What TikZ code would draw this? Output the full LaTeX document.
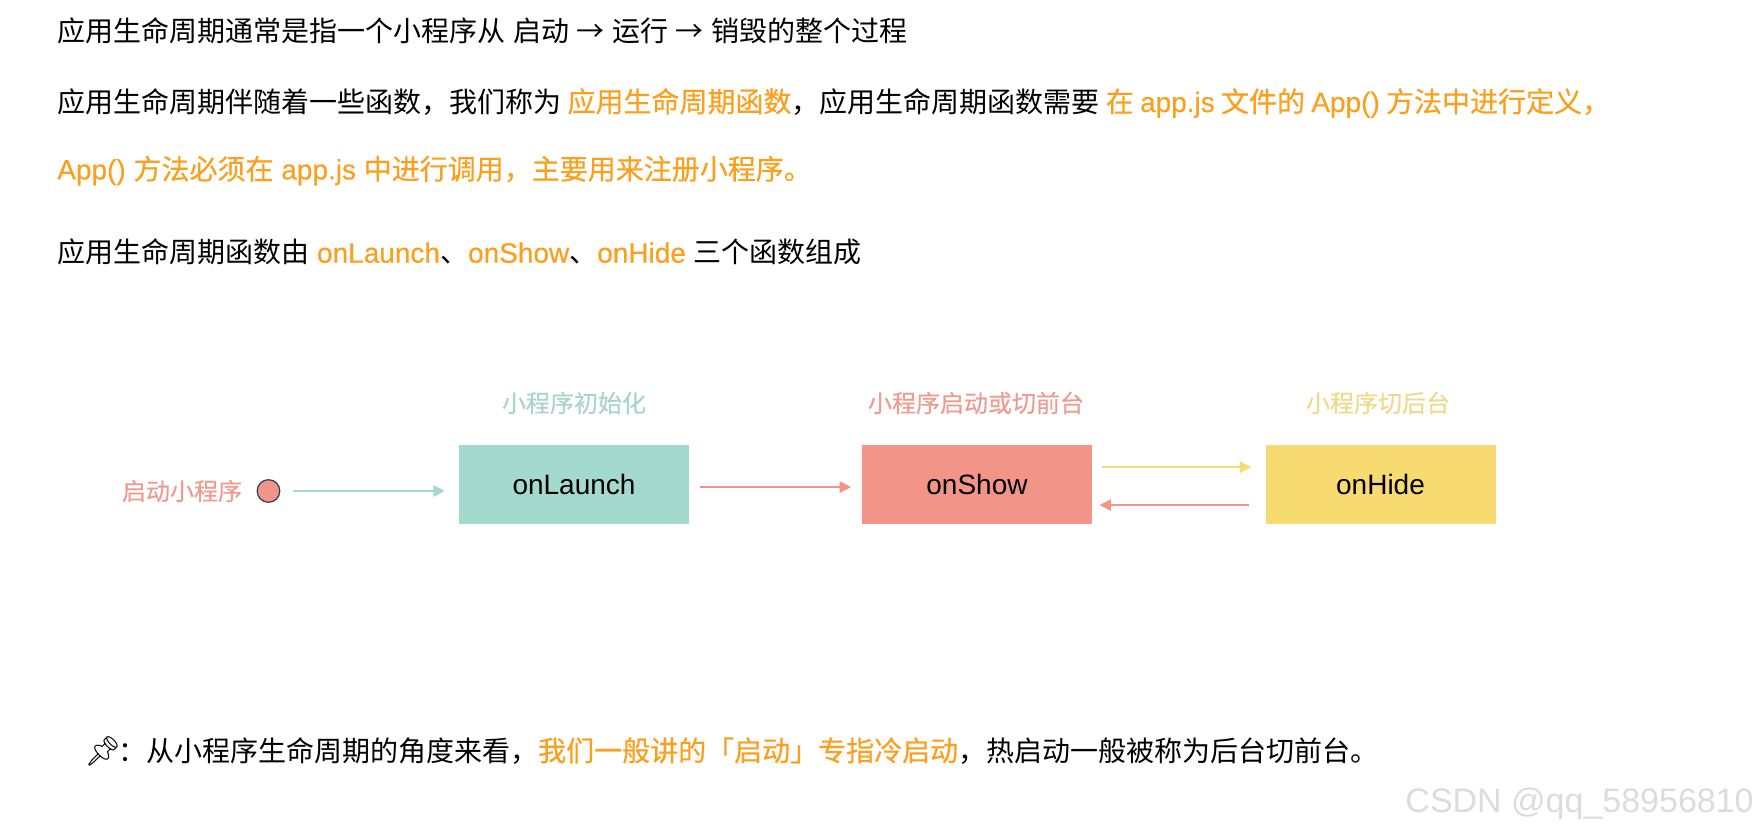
\documentclass[tikz,border=0pt]{standalone}
\usepackage{fontspec}
\setmainfont{Liberation Sans}
\newfontfamily\cjk{Noto Sans CJK SC}
\newfontfamily\emoji{Noto Emoji}
\newfontfamily\cjkheavy[FakeBold=.5]{Noto Sans CJK SC}
\newfontfamily\latinheavy[FakeBold=.4]{Liberation Sans}
\usetikzlibrary{arrows.meta}
\definecolor{hiorange}{HTML}{FA9F1E}
\definecolor{lifeteal}{HTML}{A3D9CE}
\definecolor{lifered}{HTML}{F29488}
\definecolor{lifeyellow}{HTML}{F7DB70}
\definecolor{tagteal}{HTML}{A9D5CA}
\definecolor{tagred}{HTML}{EE9C91}
\definecolor{tagyellow}{HTML}{EFD98A}
\definecolor{dotline}{HTML}{24405F}
\definecolor{markgray}{HTML}{DCDCDC}
\newcommand{\hi}[1]{\textcolor{hiorange}{#1}}
\newcommand{\hc}[1]{{\cjkheavy #1}}
\newcommand{\hl}[1]{{\latinheavy #1}}
\tikzset{
  para/.style={anchor=west,inner sep=0pt,font=\fontsize{21pt}{25pt}\selectfont},
  hook/.style={inner sep=0pt,font=\cjkheavy\fontsize{18pt}{22pt}\selectfont},
  stage/.style={minimum width=172.5pt,minimum height=59pt,inner sep=0pt,font=\fontsize{21pt}{25pt}\selectfont},
  flow/.style={line width=1.3pt,-{Triangle[length=8.5pt,width=8.5pt]}}
}
\begin{document}
\begin{tikzpicture}[x=.75pt,y=-.75pt]
\useasboundingbox (0,0) rectangle (1759,831);
% text
\node[para] (line1) at (57,31) {\cjk 应用生命周期通常是指一个小程序从\hspace{1.5pt} 启动\hspace{.5pt} →\hspace{1.5pt} 运行\hspace{.5pt} →\hspace{1.3pt} 销毁的整个过程};
\node[para] (line2) at (57,103) {\cjk 应用生命周期伴随着一些函数，我们称为 \hi{\hc{应用生命周期函数}}，应用生命周期函数需要 \hi{\hc{在} \hl{app.js} \hc{文件的} \hl{App()} \hc{方法中进行定义，}}};
\node[para] (line3) at (57,170.5) {\hi{\hl{App()} \hc{方法必须在} \hl{app.js} \hc{中进行调用，主要用来注册小程序。}}};
\node[para] (line4) at (57,252) {{\cjk 应用生命周期函数由} \hi{\hl{onLaunch}}{\cjk 、}\hi{\hl{onShow}}{\cjk 、}\hi{\hl{onHide}} {\cjk 三个函数组成}};
\node[para] (note) at (84,751) {{\emoji\fontsize{22pt}{25pt}\selectfont 📌}\hspace{-2.5pt}{\cjk ：从小程序生命周期的角度来看，\hi{\hc{我们一般讲的「启动」专指冷启动}}，热启动一般被称为后台切前台。}};
% boxes
\node[stage,fill=lifeteal] (launch) at (574,484.5) {onLaunch};
\node[stage,fill=lifered] (show) at (977,484.5) {onShow};
\node[stage,fill=lifeyellow] (hide) at (1380.5,484.5) {onHide};
\node[hook,text=tagteal] (launchtag) at (574,403) {小程序初始化};
\node[hook,text=tagred] (showtag) at (976,403) {小程序启动或切前台};
\node[hook,text=tagyellow] (hidetag) at (1378,403) {小程序切后台};
\node[hook,text=tagred] (starttag) at (182,491) {启动小程序};
\node[circle,draw=dotline,fill=lifered,line width=.9pt,minimum size=17pt,inner sep=0pt] (dot) at (268.5,491) {};
% arrows
\draw[flow,lifeteal] ([xshift=9.5pt]dot.east) -- ([xshift=-10.5pt]launch.west |- dot.east);
\draw[flow,lifered] ([xshift=8pt,yshift=-1.9pt]launch.east) -- ([xshift=-8pt,yshift=-1.9pt]show.west);
\draw[flow,lifeyellow] ([xshift=7.5pt,yshift=13pt]show.east) -- ([xshift=-10.5pt,yshift=13pt]hide.west);
\draw[flow,lifered] ([xshift=-12pt,yshift=-15.4pt]hide.west) -- ([xshift=5.5pt,yshift=-15.4pt]show.east);
% watermark
\node[anchor=east,inner sep=0pt,text=markgray,font=\fontsize{25.5pt}{30pt}\selectfont] (mark) at (1754,804) {CSDN @qq\_58956810};
\end{tikzpicture}
\end{document}
